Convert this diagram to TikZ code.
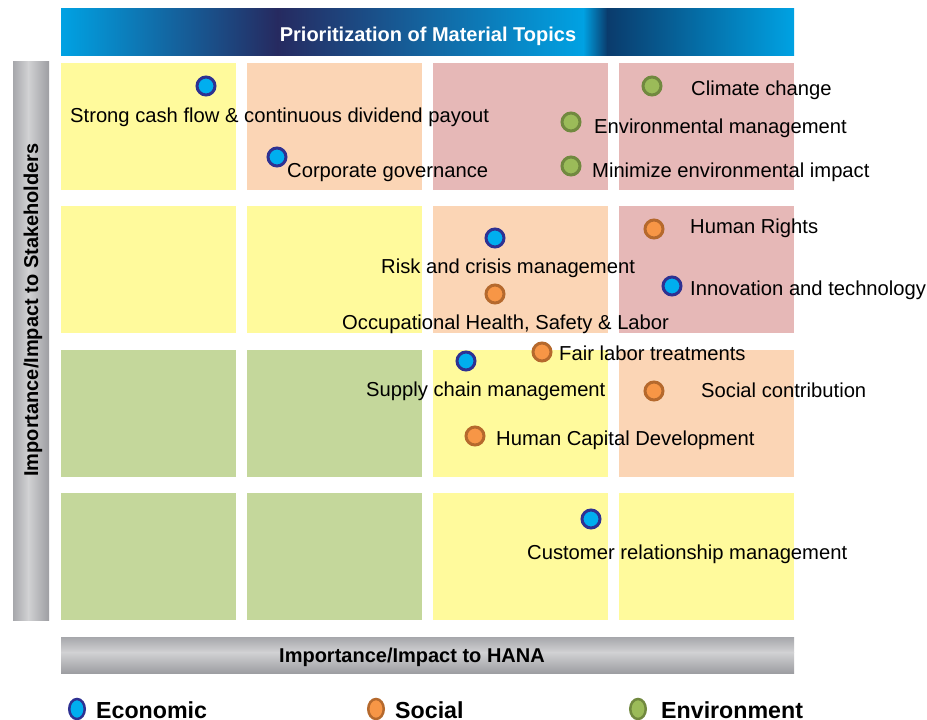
\documentclass[tikz,border=0pt]{standalone}
\usepackage{fontspec}
\setmainfont{Liberation Sans}
\usetikzlibrary{shapes.geometric}
\definecolor{cY}{HTML}{FFFA9C}
\definecolor{cP}{HTML}{FBD5B5}
\definecolor{cR}{HTML}{E6B8B7}
\definecolor{cG}{HTML}{C4D79B}
\definecolor{ecoF}{HTML}{00AEEF}
\definecolor{ecoD}{HTML}{2E3192}
\definecolor{socF}{HTML}{F79646}
\definecolor{socD}{HTML}{B5692D}
\definecolor{envF}{HTML}{9BBB59}
\definecolor{envD}{HTML}{71893F}
\definecolor{hLight}{HTML}{00A2E3}
\definecolor{hDark}{HTML}{262A60}
\definecolor{hDark2}{HTML}{0A3B6C}
\definecolor{gA}{HTML}{A6A7AB}
\definecolor{gB}{HTML}{D2D2D4}
\definecolor{gC}{HTML}{9D9EA2}
\begin{document}
\begin{tikzpicture}[x=1pt,y=-1pt,
  dotbase/.style={circle, line width=3pt, minimum size=18pt, inner sep=0pt},
  eco/.style={dotbase, draw=ecoD, fill=ecoF},
  soc/.style={dotbase, draw=socD, fill=socF},
  env/.style={dotbase, draw=envD, fill=envF},
  legbase/.style={ellipse, line width=2.5pt, minimum width=15.5pt, minimum height=20pt, inner sep=0pt},
  lbl/.style={anchor=base west, inner sep=0pt, text=black, font=\fontsize{20.2}{24}\selectfont},
  boldlbl/.style={anchor=base, inner sep=0pt, font=\bfseries\fontsize{20}{24}\selectfont},
  leglbl/.style={anchor=base west, inner sep=0pt, text=black, font=\bfseries\fontsize{23.2}{28}\selectfont}]
\useasboundingbox (0,0) rectangle (927,720);
\fill[white] (0,0) rectangle (927,720);
% header
\shade[left color=hLight, right color=hDark] (61,8) rectangle (277.5,55);
\shade[left color=hDark, right color=hLight] (277,8) rectangle (583.5,55);
\shade[left color=hLight, right color=hDark2] (583,8) rectangle (607.5,55);
\shade[left color=hDark2, right color=hLight] (607,8) rectangle (794,55);
\node[boldlbl, text=white] (title) at (428,41) {Prioritization of Material Topics};
% left bar
\shade[left color=gA, right color=gB] (13,61) rectangle (28.5,620);
\shade[left color=gB, right color=gC] (28,61) rectangle (49,620);
\node[boldlbl, text=black, rotate=90] (ylab) at (38,310) {Importance/Impact to Stakeholders};
% bottom bar
\shade[top color=gA, bottom color=gB] (61,637) rectangle (794,652.5);
\shade[top color=gB, bottom color=gC] (61,652) rectangle (794,673);
\node[boldlbl, text=black] (xlab) at (412,662) {Importance/Impact to HANA};
% grid cells
\foreach \c/\r/\col in {0/0/cY,1/0/cP,2/0/cR,3/0/cR,
                        0/1/cY,1/1/cY,2/1/cP,3/1/cR,
                        0/2/cG,1/2/cG,2/2/cY,3/2/cP,
                        0/3/cG,1/3/cG,2/3/cY,3/3/cY}{
  \pgfmathsetmacro{\xa}{61+186*\c}
  \pgfmathsetmacro{\ya}{63+143.3*\r}
  \fill[\col] (\xa,\ya) rectangle ++(175,127);
}
% economic
\node[eco] (d1) at (206,86) {};
\node[lbl] (t1) at (70,122) {Strong cash flow \& continuous dividend payout};
\node[eco] (d2) at (277,157) {};
\node[lbl] (t2) at (287,177) {Corporate governance};
\node[eco] (d3) at (495,238) {};
\node[lbl] (t3) at (381,273) {Risk and crisis management};
\node[eco] (d4) at (672,286) {};
\node[lbl] (t4) at (690,295) {Innovation and technology};
\node[eco] (d5) at (466,361) {};
\node[lbl] (t5) at (366,396) {Supply chain management};
\node[eco] (d6) at (591,519) {};
\node[lbl] (t6) at (527,559) {Customer relationship management};
% social
\node[soc] (s1) at (654,229) {};
\node[lbl] (u1) at (690,233) {Human Rights};
\node[soc] (s2) at (495,294) {};
\node[lbl] (u2) at (342,329) {Occupational Health, Safety \& Labor};
\node[soc] (s3) at (542,352) {};
\node[lbl] (u3) at (559,360) {Fair labor treatments};
\node[soc] (s4) at (654,391) {};
\node[lbl] (u4) at (701,397) {Social contribution};
\node[soc] (s5) at (475,436) {};
\node[lbl] (u5) at (496,445) {Human Capital Development};
% environment
\node[env] (e1) at (652,86) {};
\node[lbl] (v1) at (691,95) {Climate change};
\node[env] (e2) at (571,122) {};
\node[lbl] (v2) at (594,133) {Environmental management};
\node[env] (e3) at (571,166) {};
\node[lbl] (v3) at (592,177) {Minimize environmental impact};
% legend
\node[legbase, draw=ecoD, fill=ecoF] (le) at (77,709) {};
\node[leglbl] (lt1) at (96,718) {Economic};
\node[legbase, draw=socD, fill=socF] (ls) at (376,709) {};
\node[leglbl] (lt2) at (395,718) {Social};
\node[legbase, draw=envD, fill=envF] (lv) at (638,709) {};
\node[leglbl] (lt3) at (661,718) {Environment};
\end{tikzpicture}
\end{document}
